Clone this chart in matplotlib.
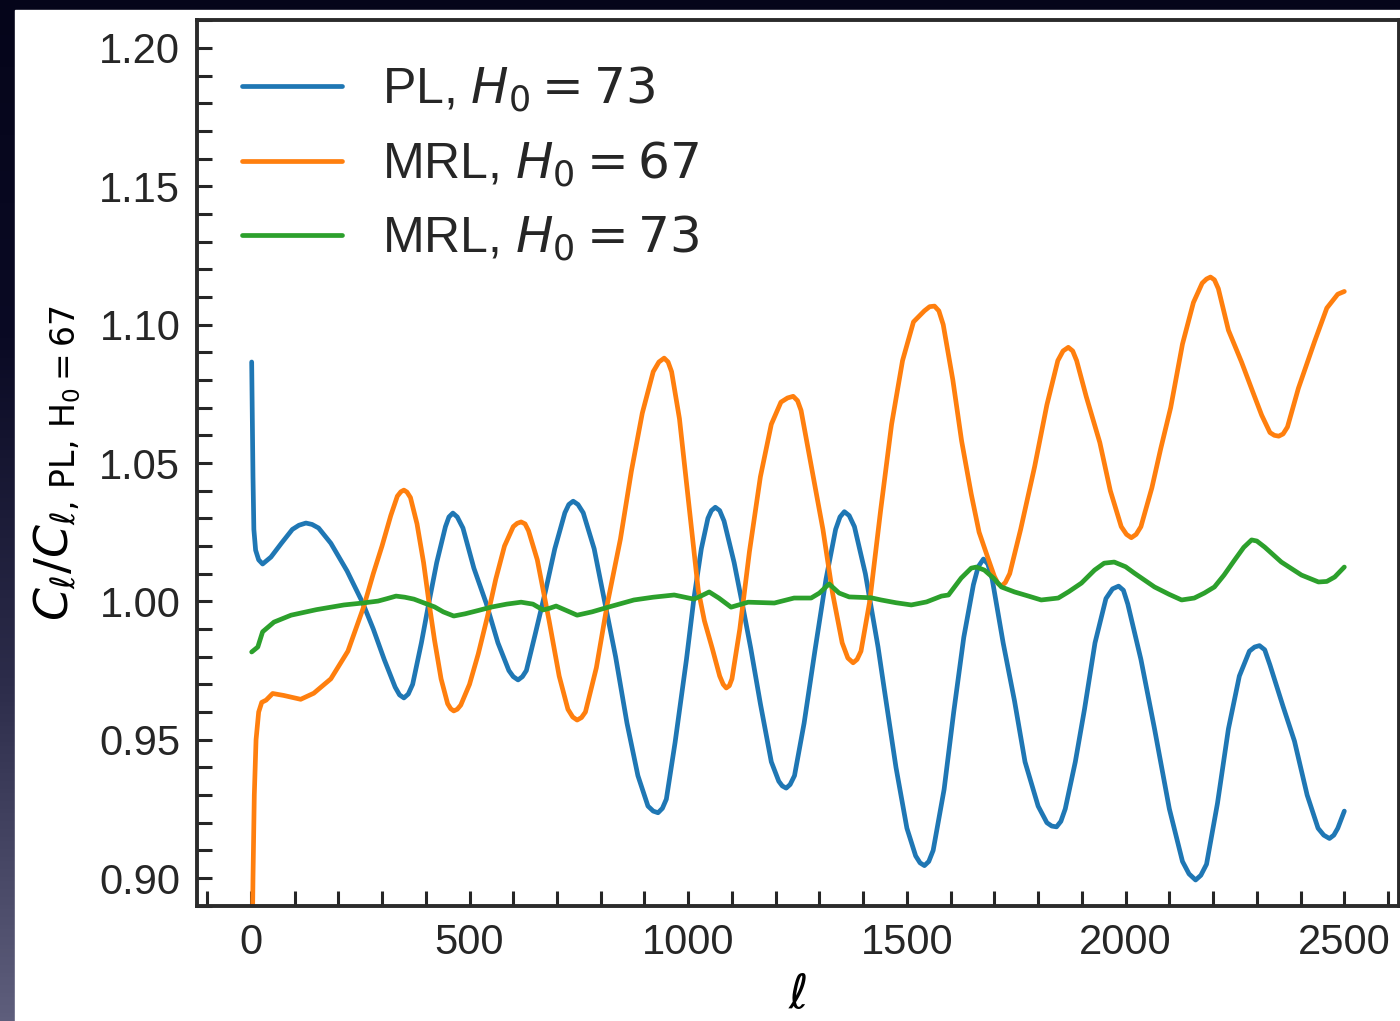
import numpy as np
from matplotlib import pyplot as plt
from matplotlib.patches import Rectangle
from matplotlib.colors import LinearSegmentedColormap
from matplotlib.ticker import MultipleLocator

# values
ell_pl73 = [2, 5, 7, 11, 18, 27, 46, 70, 95, 110, 126, 140, 155, 183, 220, 256, 280, 305,
            330, 340, 350, 360, 370, 390, 407, 425, 445, 453, 462, 472, 485, 510, 538, 565,
            590, 600, 611, 621, 630, 650, 674, 695, 718, 727, 737, 748, 760, 785, 810, 834,
            860, 885, 908, 920, 931, 941, 950, 970, 996, 1013, 1030, 1045, 1053, 1062, 1072,
            1082, 1105, 1125, 1143, 1165, 1190, 1207, 1215, 1224, 1233, 1243, 1265, 1290,
            1315, 1337, 1347, 1357, 1368, 1380, 1405, 1434, 1448, 1475, 1500, 1520, 1530,
            1540, 1550, 1560, 1585, 1607, 1630, 1652, 1663, 1675, 1685, 1695, 1720, 1746,
            1770, 1800, 1820, 1831, 1842, 1852, 1862, 1885, 1906, 1930, 1955, 1970, 1984,
            1995, 2005, 2035, 2066, 2100, 2130, 2145, 2160, 2172, 2185, 2210, 2235, 2260,
            2283, 2295, 2306, 2318, 2330, 2360, 2386, 2415, 2440, 2453, 2466, 2476, 2485,
            2500]
pl73 = [1.0865, 1.045, 1.026, 1.0185, 1.0150, 1.0135, 1.0160, 1.0210, 1.0260, 1.0275,
        1.0283, 1.0278, 1.0265, 1.0210, 1.0110, 0.9994, 0.9900, 0.9790, 0.9690, 0.9662,
        0.9651, 0.9665, 0.9700, 0.9850, 0.9994, 1.0140, 1.0270, 1.0305, 1.0319, 1.0305,
        1.0265, 1.0120, 0.9994, 0.9850, 0.9750, 0.9728, 0.9716, 0.9728, 0.9750, 0.9880,
        1.0039, 1.0190, 1.0320, 1.0350, 1.0362, 1.0350, 1.0320, 1.0190, 0.9990, 0.9800,
        0.9560, 0.9370, 0.9260, 0.9242, 0.9236, 0.9252, 0.9285, 0.9490, 0.9790, 1.0010,
        1.0190, 1.0300, 1.0328, 1.0340, 1.0328, 1.0290, 1.0140, 0.9980, 0.9830, 0.9630,
        0.9420, 0.9350, 0.9333, 0.9325, 0.9338, 0.9370, 0.9560, 0.9825, 1.0080, 1.0260,
        1.0305, 1.0324, 1.0310, 1.0270, 1.0100, 0.9835, 0.9685, 0.9400, 0.9180, 0.9080,
        0.9055, 0.9045, 0.9060, 0.9100, 0.9320, 0.9600, 0.9870, 1.0060, 1.0125, 1.0153,
        1.0135, 1.0080, 0.9850, 0.9640, 0.9420, 0.9260, 0.9200, 0.9188, 0.9185, 0.9205,
        0.9250, 0.9420, 0.9610, 0.9850, 1.0010, 1.0045, 1.0055, 1.0040, 0.9990, 0.9790,
        0.9540, 0.9250, 0.9060, 0.9015, 0.8993, 0.9010, 0.9050, 0.9270, 0.9539, 0.9730,
        0.9820, 0.9835, 0.9840, 0.9825, 0.9770, 0.9620, 0.9495, 0.9300, 0.9180, 0.9155,
        0.9143, 0.9155, 0.9180, 0.9242]

ell_mrl67 = [2, 5, 8, 12, 18, 25, 35, 50, 75, 114, 144, 183, 222, 258, 280, 300, 320, 335,
             343, 350, 357, 365, 380, 395, 407, 420, 435, 450, 457, 464, 472, 480, 500, 520,
             541, 560, 580, 600, 609, 618, 627, 635, 655, 682, 705, 725, 736, 746, 756, 765,
             790, 815, 845, 870, 895, 920, 933, 945, 954, 962, 980, 1000, 1023, 1037, 1055,
             1072, 1080, 1087, 1094, 1100, 1118, 1140, 1165, 1190, 1212, 1227, 1240, 1250,
             1258, 1280, 1308, 1330, 1352, 1365, 1377, 1386, 1395, 1415, 1440, 1465, 1490,
             1515, 1540, 1552, 1563, 1573, 1583, 1605, 1625, 1647, 1665, 1686, 1700, 1708,
             1716, 1725, 1735, 1760, 1792, 1820, 1845, 1857, 1869, 1879, 1888, 1910, 1941,
             1965, 1990, 2002, 2013, 2024, 2035, 2060, 2080, 2103, 2130, 2155, 2175, 2185,
             2194, 2203, 2212, 2235, 2265, 2290, 2311, 2330, 2340, 2350, 2360, 2370, 2395,
             2432, 2460, 2485, 2500]
mrl67 = [0.860, 0.900, 0.930, 0.950, 0.960, 0.9635, 0.9643, 0.9667, 0.9660, 0.9646, 0.9668,
         0.9720, 0.9820, 0.9980, 1.0100, 1.0200, 1.0310, 1.0380, 1.0396, 1.0402, 1.0395,
         1.0375, 1.0280, 1.0140, 1.0000, 0.9860, 0.9720, 0.9630, 0.9612, 0.9604, 0.9610,
         0.9625, 0.9700, 0.9810, 0.9945, 1.0080, 1.0200, 1.0270, 1.0282, 1.0287, 1.0280,
         1.0255, 1.0150, 0.9930, 0.9730, 0.9610, 0.9582, 0.9571, 0.9580, 0.9600, 0.9760,
         0.9990, 1.0225, 1.0470, 1.0680, 1.0830, 1.0865, 1.0879, 1.0865, 1.0830, 1.0660,
         1.0370, 1.0040, 0.9930, 0.9830, 0.9730, 0.9700, 0.9687, 0.9695, 0.9720, 0.9900,
         1.0180, 1.0450, 1.0640, 1.0720, 1.0735, 1.0741, 1.0725, 1.0690, 1.0500, 1.0260,
         1.0030, 0.9850, 0.9795, 0.9778, 0.9790, 0.9820, 1.0000, 1.0330, 1.0640, 1.0870,
         1.1010, 1.1050, 1.1065, 1.1067, 1.1050, 1.1000, 1.0800, 1.0580, 1.0388, 1.0250,
         1.0153, 1.0090, 1.0065, 1.0055, 1.0068, 1.0100, 1.0260, 1.0487, 1.0710, 1.0870,
         1.0905, 1.0918, 1.0905, 1.0870, 1.0740, 1.0574, 1.0400, 1.0270, 1.0242, 1.0230,
         1.0242, 1.0270, 1.0410, 1.0550, 1.0700, 1.0930, 1.1080, 1.1150, 1.1165, 1.1172,
         1.1162, 1.1130, 1.0980, 1.0865, 1.0760, 1.0673, 1.0610, 1.0600, 1.0597, 1.0605,
         1.0630, 1.0770, 1.0939, 1.1060, 1.1110, 1.1120]

ell_mrl73 = [2, 16, 27, 53, 92, 150, 213, 256, 291, 312, 332, 352, 373, 420, 440, 464, 490,
             520, 549, 585, 618, 645, 668, 683, 698, 720, 746, 780, 817, 876, 920, 968, 1013,
             1030, 1048, 1070, 1098, 1137, 1197, 1242, 1281, 1300, 1322, 1345, 1368, 1418,
             1441, 1475, 1510, 1545, 1579, 1595, 1624, 1647, 1659, 1677, 1698, 1716, 1746,
             1778, 1807, 1846, 1870, 1899, 1929, 1951, 1974, 2000, 2020, 2066, 2100, 2128,
             2157, 2180, 2203, 2225, 2249, 2270, 2288, 2300, 2318, 2356, 2402, 2441, 2460,
             2478, 2500]
mrl73 = [0.9817, 0.9835, 0.9890, 0.9925, 0.9950, 0.9970, 0.9987, 0.9994, 1.0001, 1.0010,
         1.0019, 1.0015, 1.0008, 0.9980, 0.9962, 0.9947, 0.9955, 0.9967, 0.9979, 0.9990,
         0.9997, 0.9990, 0.9969, 0.9975, 0.9983, 0.9968, 0.9950, 0.9962, 0.9979, 1.0005,
         1.0015, 1.0023, 1.0008, 1.0020, 1.0034, 1.0012, 0.9979, 0.9997, 0.9994, 1.0012,
         1.0012, 1.0030, 1.0063, 1.0030, 1.0016, 1.0013, 1.0005, 0.9995, 0.9987, 0.9998,
         1.0019, 1.0023, 1.0084, 1.0120, 1.0124, 1.0113, 1.0084, 1.0052, 1.0034, 1.0019,
         1.0005, 1.0012, 1.0035, 1.0066, 1.0113, 1.0138, 1.0142, 1.0125, 1.0102, 1.0052,
         1.0025, 1.0005, 1.0012, 1.0030, 1.0052, 1.0095, 1.0149, 1.0195, 1.0222, 1.0218,
         1.0196, 1.0142, 1.0095, 1.0070, 1.0072, 1.0088, 1.0124]

labels = [r"PL, $H_0 = 73$", r"MRL, $H_0 = 67$", r"MRL, $H_0 = 73$"]

plt.rcParams['font.family'] = ['Liberation Sans', 'DejaVu Sans']
plt.rcParams['text.color'] = '#262626'

fig = plt.figure(figsize=(14, 10.21), dpi=100)

# slide-like dark surround
bg = fig.add_axes([0, 0, 1, 1], zorder=-10)
grad = np.linspace(0, 1, 256).reshape(-1, 1)
cmap = LinearSegmentedColormap.from_list("bg", ["#5e5e7c", "#2c2c4a", "#0a0a24", "#05051a"])
bg.imshow(grad, extent=[0, 1, 0, 1], aspect='auto', cmap=cmap, origin='lower')
bg.add_patch(Rectangle((15 / 1400, 0), 1, 1 - 10 / 1021, color='white'))
bg.set_xlim(0, 1)
bg.set_ylim(0, 1)
bg.axis('off')

ax = fig.add_axes([197 / 1400, 1 - 906 / 1021, (1399 - 197) / 1400, (906 - 20) / 1021])
ax.set_facecolor('white')
line_kw = dict(lw=3.4, solid_joinstyle='round', solid_capstyle='round')
ax.plot(ell_pl73, pl73, color='#1f77b4', label=labels[0], **line_kw)
ax.plot(ell_mrl67, mrl67, color='#ff7f0e', label=labels[1], **line_kw)
ax.plot(ell_mrl73, mrl73, color='#2ca02c', label=labels[2], **line_kw)

ax.set_xlim(-123, 2625)
ax.set_ylim(0.8899, 1.2101)
ax.xaxis.set_major_locator(MultipleLocator(500))
ax.xaxis.set_minor_locator(MultipleLocator(100))
ax.yaxis.set_major_locator(MultipleLocator(0.05))
ax.yaxis.set_minor_locator(MultipleLocator(0.01))
ax.yaxis.set_major_formatter(plt.FormatStrFormatter('%.2f'))
ax.tick_params(which='both', direction='in', length=10.5, width=2.2, color='#262626',
               labelsize=30, labelcolor='#262626', pad=12)
for s in ax.spines.values():
    s.set_linewidth(2.8)
    s.set_color('#2b2b2b')

ax.set_xlabel(r"$\ell$", fontsize=34, labelpad=8)
ax.set_ylabel(r"$C_\ell/C_{\ell,\,\mathrm{PL,\,H_0=67}}$", fontsize=34, labelpad=12)
ax.legend(loc='upper left', frameon=False, fontsize=36, handlelength=2.0,
          borderaxespad=0.5, labelspacing=0.5, handletextpad=0.8)

plt.savefig("out.png", dpi=100)
